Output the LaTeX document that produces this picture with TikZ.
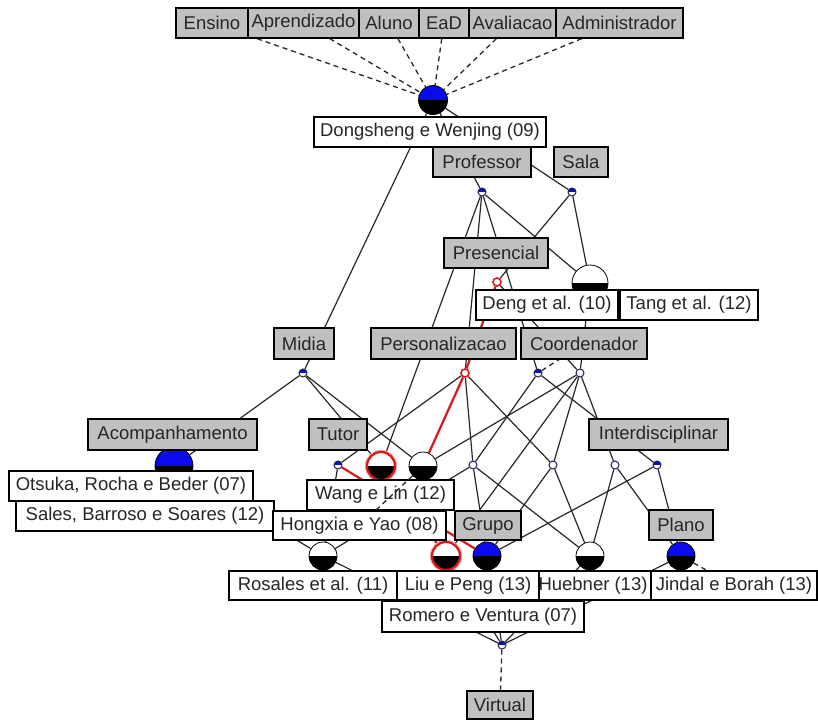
\documentclass[tikz,border=0pt]{standalone}
\usepackage{fontspec}
\setmainfont{Liberation Sans}
\pgfdeclarelayer{bg}
\pgfdeclarelayer{edges}
\pgfsetlayers{bg,edges,main}
\definecolor{labgray}{RGB}{192,192,192}
\definecolor{linec}{RGB}{40,40,40}
\definecolor{hilite}{RGB}{215,25,25}
\definecolor{attrblue}{RGB}{10,10,240}
\definecolor{navyc}{RGB}{30,30,90}
\tikzset{
  lab/.style={draw=black, line width=1.2pt, fill=labgray, inner sep=0pt,
    font=\fontsize{18.5}{21}\selectfont, text=black!85},
  obj/.style={lab, fill=white},
  conc/.style={circle, inner sep=0pt, minimum size=#1, draw=black, line width=0.8pt,
    fill=white,
    path picture={\fill[black] (path picture bounding box.west) rectangle (path picture bounding box.south east);}},
  concblue/.style={conc=#1, fill=attrblue},
  concred/.style={conc=#1, draw=hilite, line width=2.2pt,
    preaction={draw=hilite!35, line width=4.5pt}},
  dot/.style={circle, inner sep=0pt, minimum size=8pt, draw=navyc, line width=1pt, fill=white},
  dotattr/.style={dot,
    path picture={\fill[attrblue!70!navyc] (path picture bounding box.north west) rectangle (path picture bounding box.east);}},
  dotred/.style={dot, draw=hilite, line width=1.6pt},
  edge/.style={draw=linec, line width=1.2pt},
  hedge/.style={draw=hilite, line width=2.2pt},
  lblink/.style={draw=linec, line width=1.3pt, dash pattern=on 5pt off 4pt},
}
\begin{document}
\begin{tikzpicture}[x=1pt, y=-1pt]
\useasboundingbox (0,0) rectangle (818,720);
\begin{pgfonlayer}{bg}
  \fill[white] (0,0) rectangle (818,720);
\end{pgfonlayer}

% concepts with own objects
\node[concblue=29pt] (T) at (433,100) {};
\node[conc=36pt]     (D) at (590,283) {};
\node[concblue=38pt] (I) at (174,466) {};
\node[concred=28pt]  (K) at (381,466) {};
\node[conc=28pt]     (L) at (423,466) {};
\node[conc=28pt]     (Q) at (323,556) {};
\node[concred=28pt]  (R) at (446,556) {};
\node[concblue=28pt] (S) at (487,556) {};
\node[conc=28pt]     (U) at (590,556) {};
\node[concblue=28pt] (V) at (681,556) {};

% concepts without own objects
\node[dotattr] (A)  at (482,192) {};
\node[dotattr] (B)  at (572,192) {};
\node[dotred]  (C)  at (497,282) {};
\node[dotattr] (E)  at (303,373) {};
\node[dotred]  (F)  at (465,373) {};
\node[dotattr] (G)  at (538,373) {};
\node[dot]     (H)  at (580,373) {};
\node[dotattr] (J)  at (338,465) {};
\node[dot]     (M)  at (473,465) {};
\node[dot]     (N)  at (553,465) {};
\node[dot]     (O)  at (615,465) {};
\node[dotattr] (Pn) at (657,465) {};
\node[dotattr] (W)  at (502,645) {};

% attribute labels
\node[lab, minimum width=72pt,  minimum height=30pt] (ensino) at (212,23)   {Ensino};
\node[lab, minimum width=111pt, minimum height=30pt] (aprend) at (303.5,23) {Aprendizado};
\node[lab, minimum width=60pt,  minimum height=30pt] (aluno)  at (389,23)   {Aluno};
\node[lab, minimum width=50pt,  minimum height=30pt] (ead)    at (444,23)   {EaD};
\node[lab, minimum width=87pt,  minimum height=30pt] (aval)   at (512.5,23) {Avaliacao};
\node[lab, minimum width=127pt, minimum height=30pt] (admin)  at (619.5,23) {Administrador};

\node[obj, minimum width=232pt, minimum height=30pt] (dong) at (430,132) {Dongsheng e Wenjing (09)};
\node[lab, minimum width=98pt,  minimum height=30pt] (prof) at (482,162) {Professor};
\node[lab, minimum width=54pt,  minimum height=30pt] (sala) at (581,162) {Sala};
\node[lab, minimum width=104pt, minimum height=30pt] (pres) at (496,253) {Presencial};
\node[obj, minimum width=142pt, minimum height=30pt] (deng) at (547,305) {Deng et al. (10)};
\node[obj, minimum width=138pt, minimum height=30pt] (tang) at (689,305) {Tang et al. (12)};
\node[lab, minimum width=60pt,  minimum height=31pt] (midia) at (304,343.5)   {Midia};
\node[lab, minimum width=145pt, minimum height=31pt] (perso) at (443.5,343.5) {Personalizacao};
\node[lab, minimum width=126pt, minimum height=31pt] (coord) at (584,343.5)   {Coordenador};
\node[lab, minimum width=169pt, minimum height=31pt] (acomp) at (172.5,434.5) {Acompanhamento};
\node[lab, minimum width=58pt,  minimum height=31pt] (tutor) at (338,434.5)   {Tutor};
\node[lab, minimum width=139pt, minimum height=31pt] (inter) at (658.5,434.5) {Interdisciplinar};

\node[obj, minimum width=244pt, minimum height=30pt] (otsuka) at (131,486) {Otsuka, Rocha e Beder (07)};
\node[obj, minimum width=258pt, minimum height=30pt] (sales)  at (145,516) {Sales, Barroso e Soares (12)};
\node[obj, minimum width=147pt, minimum height=30pt] (wang)   at (380.5,495) {Wang e Lin (12)};
\coordinate (hx) at (359.5,525.5);
\draw[lblink] (L) -- (hx);
\node[obj, minimum width=173pt, minimum height=29pt] (hong)  at (hx) {Hongxia e Yao (08)};
\node[lab, minimum width=66pt,  minimum height=29pt] (grupo) at (488,525.5) {Grupo};
\node[lab, minimum width=64pt,  minimum height=30pt] (plano) at (681,525)   {Plano};

\node[obj, minimum width=168pt, minimum height=29pt] (rosales) at (313,585.5) {Rosales et al. (11)};
\node[obj, minimum width=118pt, minimum height=29pt] (hueb)    at (593,585.5) {Huebner (13)};
\node[obj, minimum width=166pt, minimum height=29pt] (jindal)  at (734,585.5) {Jindal e Borah (13)};
\node[obj, minimum width=142pt, minimum height=29pt] (liu)     at (468,585.5) {Liu e Peng (13)};
\node[obj, minimum width=202pt, minimum height=31pt] (romero)  at (483,616.5) {Romero e Ventura (07)};
\node[lab, minimum width=66pt,  minimum height=28pt] (virtual) at (500,705)   {Virtual};

\begin{pgfonlayer}{edges}
  % label links
  \foreach \a in {ensino,aprend,aluno,ead,aval,admin} \draw[lblink] (\a) -- (T);
  \draw[lblink] (G) -- (coord);
  \draw[lblink] (W) -- (virtual);
  \draw[lblink] (V) -- (jindal);
  % lattice order
  \draw[edge] (T) -- (A);  \draw[edge] (T) -- (B);  \draw[edge] (T) -- (E);
  \draw[edge] (A) -- (K);  \draw[edge] (A) -- (F);  \draw[edge] (A) -- (G);
  \draw[edge] (A) -- (D);
  \draw[edge] (B) -- (C);  \draw[edge] (B) -- (D);
  \draw[edge] (C) -- (H);  \draw[edge] (D) -- (H);
  \draw[edge] (E) -- (I);  \draw[edge] (E) -- (K);  \draw[edge] (E) -- (L);
  \draw[edge] (F) -- (J);  \draw[edge] (F) -- (M);  \draw[edge] (F) -- (N);
  \draw[edge] (G) -- (M);  \draw[edge] (G) -- (Pn);
  \draw[edge] (H) -- (L);  \draw[edge] (H) -- (R);  \draw[edge] (H) -- (N);
  \draw[edge] (H) -- (O);
  \draw[edge] (J) -- (Q);  \draw[edge] (L) -- (R);  \draw[edge] (I) -- (Q);
  \draw[edge] (M) -- (Q);  \draw[edge] (M) -- (S);  \draw[edge] (M) -- (U);
  \draw[edge] (N) -- (S);  \draw[edge] (N) -- (U);
  \draw[edge] (O) -- (U);  \draw[edge] (O) -- (V);
  \draw[edge] (Pn) -- (S); \draw[edge] (Pn) -- (V);
  \foreach \b in {Q,R,S,U,V} \draw[edge] (\b) -- (W);
  % highlighted path
  \draw[hedge] (C) -- (F);
  \draw[hedge] (F) -- (L);
  \draw[hedge] (J) -- (S);
  \draw[hedge] (K) -- (R);
\end{pgfonlayer}
\end{tikzpicture}
\end{document}
